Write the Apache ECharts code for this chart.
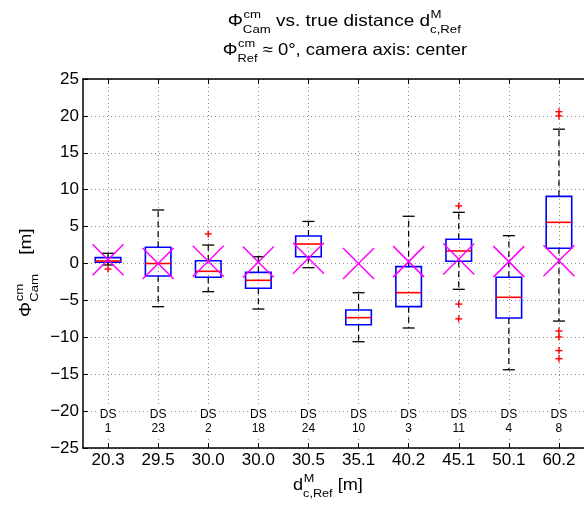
<!DOCTYPE html>
<html><head><meta charset="utf-8">
<script src="https://cdn.jsdelivr.net/npm/echarts@6/dist/echarts.min.js"></script>
<style>html,body{margin:0;padding:0;background:#fff}#c{width:584px;height:506px}</style>
</head><body><div id="c"></div>
<script>
const categories = ['20.3','29.5','30.0','30.0','30.5','35.1','40.2','45.1','50.1','60.2'];
const dsNumbers = ['1','23','2','18','24','10','3','11','4','8'];
const lowerWhisker = [-0.2, -5.85, -3.82, -6.17, -0.57, -10.6, -8.74, -3.5, -14.4, -7.8];
const q1 = [0.16, -1.7, -1.87, -3.36, 0.92, -8.29, -5.85, 0.3, -7.39, 2.06];
const median = [0.34, 0.0, -1.06, -2.28, 2.64, -7.34, -3.95, 1.7, -4.58, 5.58];
const q3 = [0.79, 2.2, 0.38, -1.2, 3.73, -6.3, -0.43, 3.28, -1.87, 9.1];
const upperWhisker = [1.38, 7.25, 2.5, 0.92, 5.7, -3.96, 6.4, 6.93, 3.77, 18.2];
const meanMarker = [0.5, 0.0, 0.3, 0.2, 0.7, 0.0, 0.25, 0.6, 0.25, 0.38];
const outliers = [[0,-0.75],[2,4.0],[7,7.8],[7,-5.5],[7,-7.5],[9,20.57],[9,20.0],[9,-9.15],[9,-9.96],[9,-11.8],[9,-12.9]];
const yTicks = {min:-25, max:25, interval:5};

const FONT = '"Liberation Sans", Arial, Helvetica, sans-serif';
const ctx2d = document.createElement('canvas').getContext('2d');
function tw(t, fs){ ctx2d.font = fs + 'px ' + FONT; return ctx2d.measureText(t).width; }
function txt(t, x, baseline, fs){
  return {type:'text', x:x, y:baseline - 0.30*fs, style:{text:t, font: fs + 'px ' + FONT, fill:'#000', align:'left', verticalAlign:'middle'}};
}
function mathLabel(parts, fs, ss, supDy, subDy){
  const ch = []; let x = 0;
  parts.forEach(p => {
    if (p.gap) { x += p.gap; return; }
    if (p.t !== undefined) { ch.push(txt(p.t, x, 0, fs)); x += tw(p.t, fs); return; }
    let w = 0;
    if (p.sup) { ch.push(txt(p.sup, x + 0.5, supDy, ss)); w = Math.max(w, tw(p.sup, ss) + 0.5); }
    if (p.sub) { ch.push(txt(p.sub, x, subDy, ss)); w = Math.max(w, tw(p.sub, ss)); }
    x += w;
  });
  return ch;
}

const chart = echarts.init(document.getElementById('c'), null, {renderer:'canvas'});

function hline(x1,y1,x2,y2,stroke,w,dash){
  return {type:'line', shape:{x1,y1,x2,y2}, style:{stroke, lineWidth:w, lineDash:dash||null}};
}
function renderBox(params, api){
  const i = api.value(0);
  const cx = api.coord([i, 0])[0];
  const bw = api.size([1, 0])[0];
  const Y = k => api.coord([i, api.value(k)])[1];
  const lw = Y(1), a = Y(2), md = Y(3), b = Y(4), uw = Y(5), mn = Y(6);
  const half = bw * 0.255, cap = bw * 0.12, xs = 15.5;
  return {type:'group', children:[
    hline(cx, b, cx, uw, '#000', 1.2, [6,4]),
    hline(cx, a, cx, lw, '#000', 1.2, [6,4]),
    hline(cx-cap, uw, cx+cap, uw, '#000', 1.3),
    hline(cx-cap, lw, cx+cap, lw, '#000', 1.3),
    {type:'rect', shape:{x:cx-half, y:b, width:2*half, height:a-b}, style:{fill:'none', stroke:'#0000ff', lineWidth:1.6}},
    hline(cx-half, md, cx+half, md, '#ff0000', 1.6),
    hline(cx-xs, mn-xs, cx+xs, mn+xs, '#ff00ff', 1.5),
    hline(cx-xs, mn+xs, cx+xs, mn-xs, '#ff00ff', 1.5)
  ]};
}
function renderPlus(params, api){
  const p = api.coord([api.value(0), api.value(1)]);
  const s = 3.5;
  return {type:'group', children:[
    hline(p[0]-s, p[1], p[0]+s, p[1], '#ff0000', 1.4),
    hline(p[0], p[1]-s, p[0], p[1]+s, '#ff0000', 1.4)
  ]};
}
function renderDS(params, api){
  const i = api.value(0);
  const p = api.coord([i, yTicks.min]);
  return {type:'text', x:p[0], y:p[1] - 41, z2:10,
    style:{text:'DS\n' + dsNumbers[i], font:'12px ' + FONT, lineHeight:14, fill:'#000', align:'center', verticalAlign:'top',
      backgroundColor:'#fff', padding:[1,2]}};
}

const boxData = categories.map((c, i) => [i, lowerWhisker[i], q1[i], median[i], q3[i], upperWhisker[i], meanMarker[i]]);
const dsData = dsNumbers.map((d, i) => [i, yTicks.min]);
const dotted = {color:'#8a8a8a', width:1, type:[1,3]};

const option = {
  animation: false,
  backgroundColor: '#fff',
  grid: {left:83, top:79, width:506, height:369},
  xAxis: [
    {type:'category', data:categories, position:'bottom', boundaryGap:true,
     axisLine:{onZero:false, lineStyle:{color:'#000', width:1.5}},
     axisTick:{show:true, inside:true, alignWithLabel:true, length:5, lineStyle:{color:'#000'}},
     axisLabel:{interval:0, color:'#000', fontSize:17, fontFamily:FONT, margin:4},
     splitLine:{show:true, alignWithLabel:true, interval:0, lineStyle:dotted}},
    {type:'category', data:categories, position:'top', boundaryGap:true,
     axisLine:{onZero:false, lineStyle:{color:'#000', width:1.5}},
     axisTick:{show:true, inside:true, alignWithLabel:true, length:5, lineStyle:{color:'#000'}},
     axisLabel:{show:false}, splitLine:{show:false}}
  ],
  yAxis: {type:'value', min:yTicks.min, max:yTicks.max, interval:yTicks.interval,
    axisLine:{show:true, onZero:false, lineStyle:{color:'#000', width:1.5}},
    axisTick:{show:true, inside:true, length:5, lineStyle:{color:'#000'}},
    axisLabel:{color:'#000', fontSize:17, fontFamily:FONT, margin:4, formatter: v => String(v).replace('-', '\u2212')},
    splitLine:{show:true, lineStyle:dotted}},
  series: [
    {type:'custom', xAxisIndex:0, renderItem:renderDS, data:dsData, encode:{x:0, y:1}, z:2, clip:false},
    {type:'custom', xAxisIndex:0, renderItem:renderBox, data:boxData, encode:{x:0, y:[1,2,3,4,5,6]}, z:3},
    {type:'custom', xAxisIndex:0, renderItem:renderPlus, data:outliers, encode:{x:0, y:1}, z:4}
  ],
  graphic: [
    {type:'group', x:227.7, y:26, scaleX:1.15, children: mathLabel([{t:'\u03A6'},{sup:'cm', sub:'Cam'},{t:' vs. true distance d'},{sup:'M', sub:'c,Ref'}], 16.5, 11.5, -8, 7)},
    {type:'group', x:222.7, y:55, scaleX:1.12, children: mathLabel([{t:'\u03A6'},{sup:'cm', sub:'Ref'},{t:' \u2248 0\u00B0, camera axis: center'}], 16.5, 11.5, -8, 7)},
    {type:'group', x:293, y:490, scaleX:1.1, children: mathLabel([{t:'d'},{sup:'M', sub:'c,Ref'},{t:' [m]'}], 16.5, 11.5, -8, 7)},
    {type:'group', x:31, y:317, rotation:Math.PI/2, scaleX:1.15, children: mathLabel([{t:'\u03A6'},{sup:'cm', sub:'Cam'},{gap:12},{t:' [m]'}], 16.5, 11.5, -8, 7)}
  ]
};
chart.setOption(option);
</script></body></html>
